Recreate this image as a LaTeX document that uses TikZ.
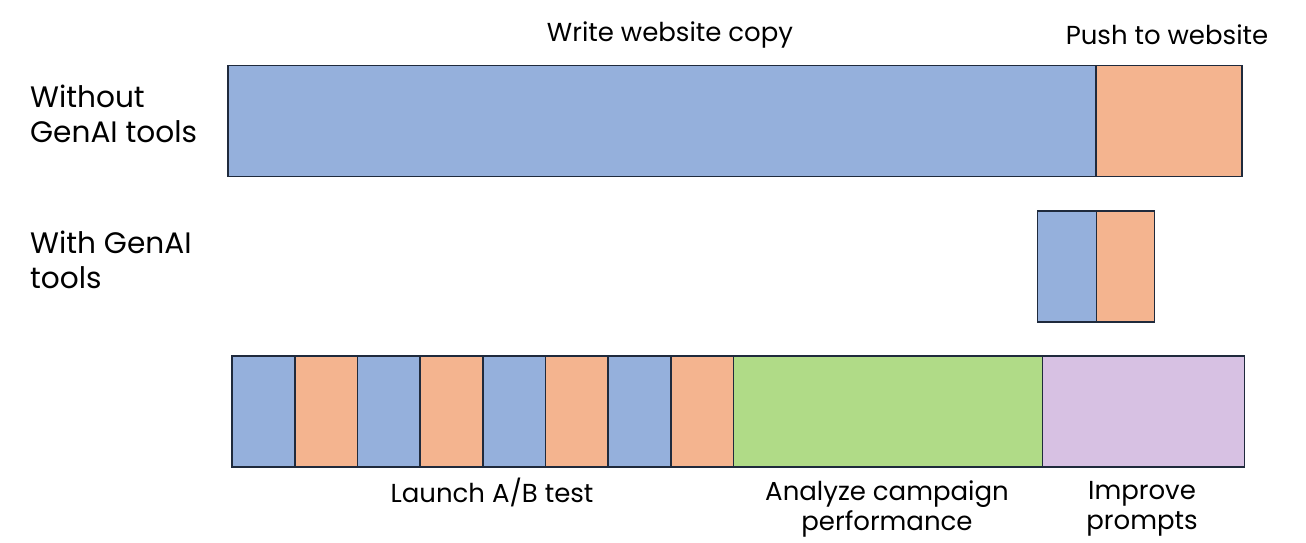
\documentclass[tikz,border=0pt]{standalone}
\usepackage{fontspec}
\setmainfont{Poppins}
\definecolor{cblue}{HTML}{95B0DC}
\definecolor{corange}{HTML}{F4B48F}
\definecolor{cgreen}{HTML}{B0DB87}
\definecolor{cpurple}{HTML}{D7C1E3}
\definecolor{cedge}{HTML}{1F2A3C}
\begin{document}
\begin{tikzpicture}[x=1pt,y=1pt,
  seg/.style={draw=cedge, line width=1.6pt, anchor=north west, inner sep=0pt, outer sep=0pt},
  lbl/.style={font=\fontsize{26}{30.5}\selectfont, inner sep=0pt, align=center, text=black},
  sidelbl/.style={font=\fontsize{29.6}{34.5}\selectfont, inner sep=0pt, align=left, anchor=west, text=black}]
\useasboundingbox (0,0) rectangle (1306,-542);
% top row
\node[seg, fill=cblue, minimum width=868pt, minimum height=111pt] (w1) at (228,-65.5) {};
\node[seg, fill=corange, minimum width=146pt, minimum height=111pt] (w2) at (1096,-65.5) {};
% small row
\node[seg, fill=cblue, minimum width=59pt, minimum height=111pt] (g1) at (1037.5,-211) {};
\node[seg, fill=corange, minimum width=58pt, minimum height=111pt] (g2) at (1096.5,-211) {};
% bottom row
\foreach \i/\c in {0/cblue,1/corange,2/cblue,3/corange,4/cblue,5/corange,6/cblue,7/corange}{
  \node[seg, fill=\c, minimum width=62.7pt, minimum height=111pt] (b\i) at ({232+62.7*\i},-356) {};
}
\node[seg, fill=cgreen, minimum width=309pt, minimum height=111pt] (an) at (733.6,-356) {};
\node[seg, fill=cpurple, minimum width=202pt, minimum height=111pt] (im) at (1042.6,-356) {};
% labels
\node[sidelbl] (l1) at (30,-114) {Without\\GenAI tools};
\node[sidelbl] (l2) at (30,-260) {With GenAI\\tools};
\node[lbl] (t1) at (670,-35) {Write website copy};
\node[lbl] (t2) at (1167,-35) {Push to website};
\node[lbl] (t3) at (492,-492) {Launch A/B test};
\node[lbl] (t4) at (887,-509) {Analyze campaign\\performance};
\node[lbl] (t5) at (1142,-509) {Improve\\prompts};
\end{tikzpicture}
\end{document}
